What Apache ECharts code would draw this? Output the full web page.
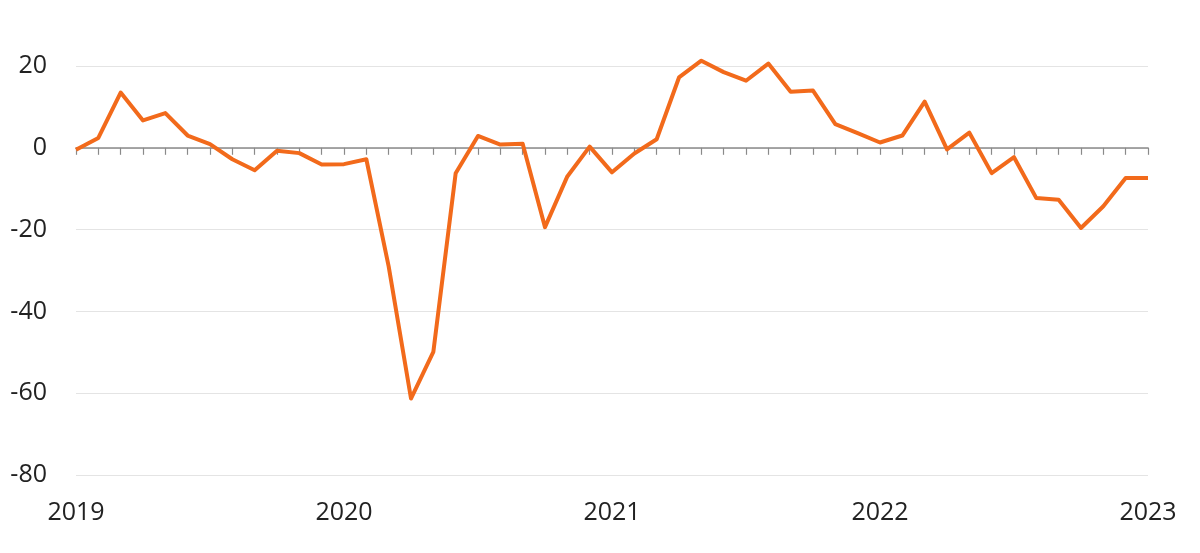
<!DOCTYPE html>
<html>
<head>
<meta charset="utf-8">
<script src="https://cdn.jsdelivr.net/npm/echarts@6/dist/echarts.min.js"></script>
<style>
  html, body { margin: 0; padding: 0; background: #fff; }
  #chart { width: 1200px; height: 553px; }
</style>
</head>
<body>
<div id="chart"></div>
<script>
// months Jan 2019 .. Jan 2023
var months = [
  '2019-01','2019-02','2019-03','2019-04','2019-05','2019-06','2019-07','2019-08','2019-09','2019-10','2019-11','2019-12',
  '2020-01','2020-02','2020-03','2020-04','2020-05','2020-06','2020-07','2020-08','2020-09','2020-10','2020-11','2020-12',
  '2021-01','2021-02','2021-03','2021-04','2021-05','2021-06','2021-07','2021-08','2021-09','2021-10','2021-11','2021-12',
  '2022-01','2022-02','2022-03','2022-04','2022-05','2022-06','2022-07','2022-08','2022-09','2022-10','2022-11','2022-12',
  '2023-01'
];

var values = [
  -0.5, 2.4, 13.5, 6.7, 8.5, 3.0, 0.9, -2.8, -5.5, -0.7, -1.3, -4.1,
  -4.0, -2.8, -29.0, -61.3, -49.9, -6.2, 2.9, 0.8, 1.0, -19.4, -7.0, 0.3,
  -6.0, -1.4, 2.1, 17.2, 21.3, 18.5, 16.4, 20.6, 13.7, 14.0, 5.8, 3.6,
  1.3, 3.0, 11.3, -0.4, 3.7, -6.2, -2.3, -12.3, -12.7, -19.6, -14.3, -7.4,
  -7.4
];

var yTicks = { min: -80, max: 20, step: 20 };

var chart = echarts.init(document.getElementById('chart'));

var option = {
  animation: false,
  grid: { left: 76, right: 52, top: 66, bottom: 78 },
  xAxis: [
    {
      // axis line with monthly ticks sitting on zero
      type: 'category',
      data: months,
      boundaryGap: false,
      axisLine: { onZero: true, lineStyle: { color: '#8a8a8a', width: 1.5 } },
      axisTick: { show: true, interval: 0, length: 7, inside: false, lineStyle: { color: '#8a8a8a', width: 1.2 } },
      axisLabel: { show: false },
      splitLine: { show: false }
    },
    {
      // year labels along the bottom
      type: 'category',
      data: months,
      position: 'bottom',
      boundaryGap: false,
      axisLine: { show: false, onZero: false },
      axisTick: { show: false },
      axisLabel: {
        interval: 11,
        margin: 25,
        color: '#222',
        fontFamily: 'Open Sans',
        fontSize: 25,
        formatter: function (v) { return v.slice(0, 4); }
      },
      splitLine: { show: false }
    }
  ],
  yAxis: {
    type: 'value',
    min: yTicks.min,
    max: yTicks.max,
    interval: yTicks.step,
    axisLine: { show: false },
    axisTick: { show: false },
    axisLabel: {
      margin: 29,
      color: '#222',
      fontFamily: 'Open Sans',
      fontSize: 25
    },
    splitLine: { lineStyle: { color: '#e4e4e4', width: 1 } }
  },
  series: [
    {
      type: 'line',
      data: values,
      xAxisIndex: 0,
      symbol: 'none',
      clip: false,
      lineStyle: { color: '#f26a1b', width: 4, join: 'round' },
      itemStyle: { color: '#f26a1b' }
    }
  ]
};

chart.setOption(option);
</script>
</body>
</html>
